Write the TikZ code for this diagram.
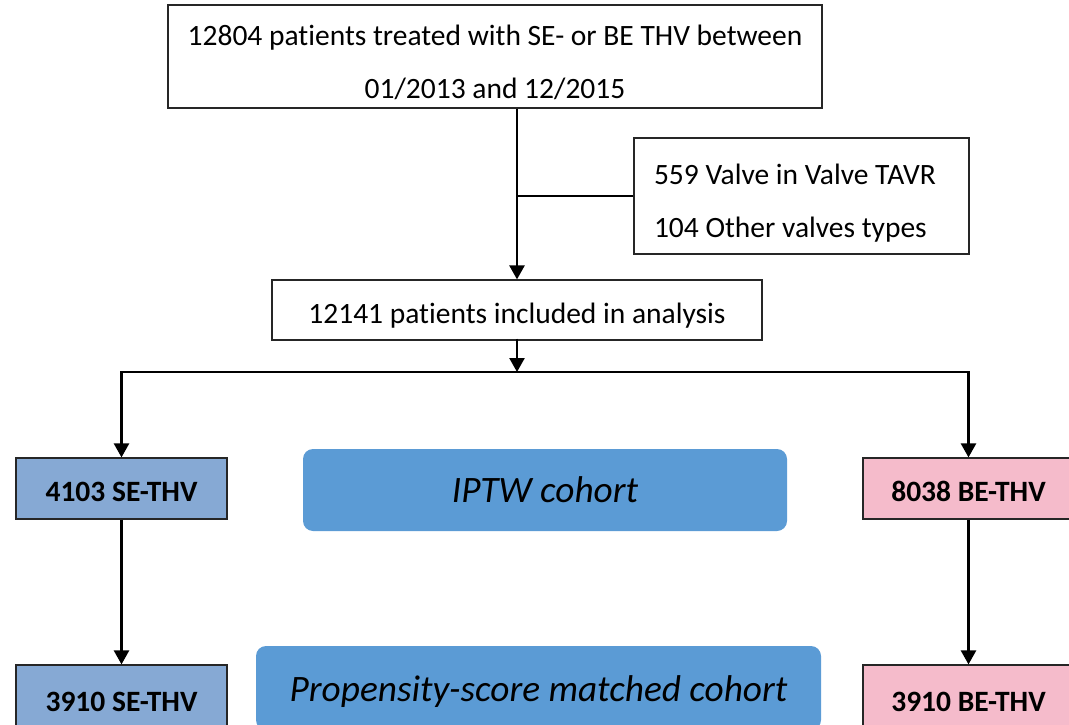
\documentclass[tikz,border=0pt]{standalone}
\usepackage{fontspec}
\setmainfont{Carlito}[Ligatures=NoCommon]
\usetikzlibrary{arrows.meta}
\definecolor{seblue}{HTML}{86A9D4}
\definecolor{bepink}{HTML}{F5BBCB}
\definecolor{cohort}{HTML}{5B9BD5}
\newcommand{\lift}[1]{\rule{0pt}{#1}}
\tikzset{
  plainbox/.style={draw=black!85, line width=1.2pt, fill=white, inner sep=0pt, font=\fontsize{29.5}{53}\selectfont},
  sebox/.style={draw=black!85, line width=1.2pt, fill=seblue, minimum width=211pt, minimum height=61pt, inner sep=0pt, font=\fontsize{29.5}{32}\selectfont\bfseries},
  bebox/.style={sebox, fill=bepink},
  cohortbox/.style={fill=cohort, rounded corners=10pt, inner sep=0pt, font=\fontsize{37.3}{42}\selectfont\itshape},
  arr/.style={line width=2.5pt, -{Triangle[width=15pt,length=14pt]}},
  conn/.style={line width=2.5pt}
}
\begin{document}
\begin{tikzpicture}[x=1pt,y=-1pt]
\useasboundingbox (0,0) rectangle (1069,725);
\clip (0,0) rectangle (1069,725);
\node[plainbox, minimum width=654pt, minimum height=103pt, align=center] (top) at (495,56.5) {\lift{32pt}12804 patients treated with SE- or BE THV between\\01/2013 and 12/2015};
\node[plainbox, minimum height=116pt, inner xsep=0pt, text width=335pt, align=flush left] (side) at (801.5,196) {\lift{35pt}\hspace*{20pt}559 Valve in Valve TAVR\\\hspace*{20pt}104 Other valves types};
\node[plainbox, minimum width=490pt, minimum height=60pt] (mid) at (517,310) {\lift{31pt}12141 patients included in analysis};
\node[sebox] (se1) at (121.5,488.5) {\lift{27pt}4103 SE-THV};
\node[bebox] (be1) at (968.5,488.5) {\lift{27pt}8038 BE-THV};
\node[cohortbox, minimum width=484pt, minimum height=82pt] (iptw) at (545,490) {IPTW cohort};
\node[sebox, minimum height=68pt] (se2) at (121.5,699) {\lift{25pt}3910 SE-THV};
\node[bebox, minimum height=68pt] (be2) at (968.5,699) {\lift{25pt}3910 BE-THV};
\node[cohortbox, minimum width=565pt, minimum height=84pt] (ps) at (538.5,688) {\lift{33pt}Propensity-score matched cohort};
\coordinate (split) at (517,372);
\draw[arr] (top.south -| mid.north) -- (mid.north);
\draw[conn] (side.west) -- (side.west -| mid.north);
\draw[arr] ([yshift=2pt]mid.south) -- (split);
\draw[arr] (split) -| (se1.north);
\draw[arr] (split) -| (be1.north);
\draw[arr] (se1.south) -- (se2.north);
\draw[arr] (be1.south) -- (be2.north);
\end{tikzpicture}
\end{document}
